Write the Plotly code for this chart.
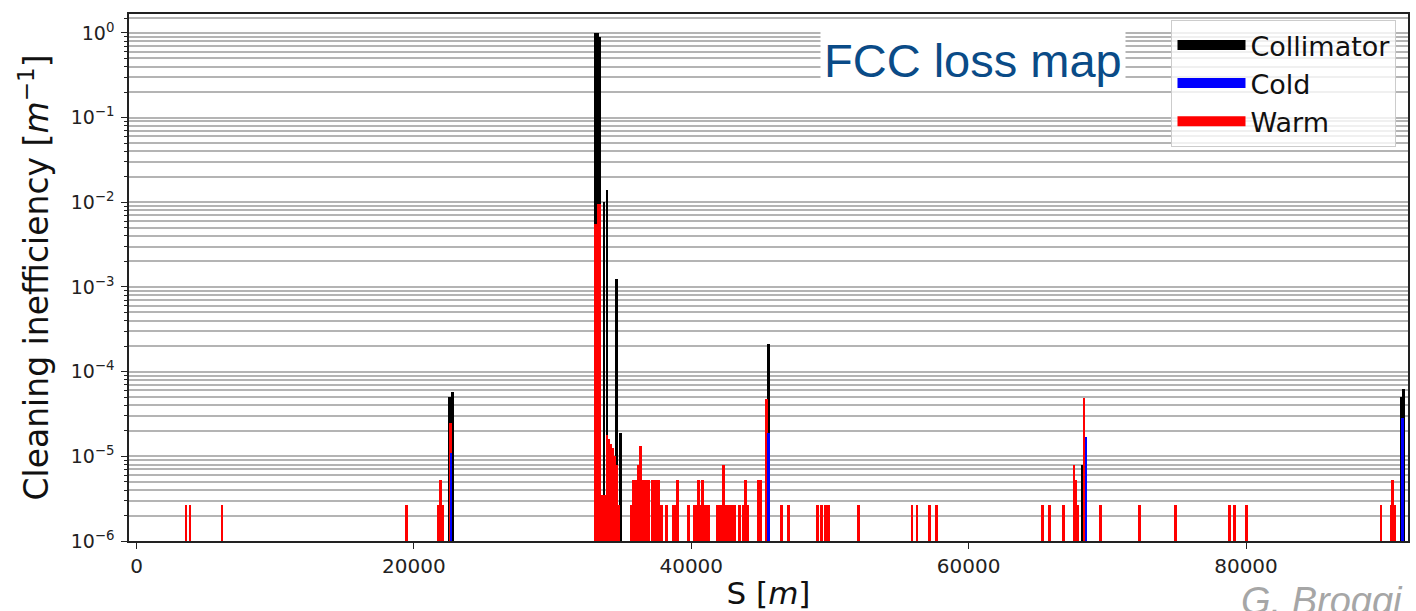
import plotly.graph_objects as go

# ---------------- data ----------------
series_names = ["Collimator", "Cold", "Warm"]
series_colors = ["#000000", "#0000ff", "#ff0000"]

collimator_s = [22578, 22758, 33094, 33274, 33418, 33706, 33922, 34606, 34894,
                45590, 68190, 91176, 91356]
collimator_eta = [5.0e-5, 5.8e-5, 1.0, 1.0, 0.9, 1.0e-2, 1.4e-2, 1.25e-3, 1.9e-5,
                  2.1e-4, 8.0e-6, 5.0e-5, 6.3e-5]

cold_s = [22672, 45560, 68456, 91272]
cold_eta = [1.1e-5, 1.9e-5, 1.67e-5, 2.8e-5]

warm_s = [3565, 3853, 6158, 19460, 21750, 21894, 22038, 22630,
          33094, 33274, 33400, 33598, 33742, 33922, 34066, 34210, 34354, 34498,
          34642, 34786,
          35686, 35830, 35974, 36154, 36334, 36478, 36622, 36766, 36910,
          37198, 37342, 37486, 37630, 37846, 38206, 38710, 38854, 38998,
          39790, 40259, 40403, 40511, 40655, 40799, 40943, 41087, 41231,
          41880, 42024, 42168, 42348, 42528, 42672, 42816, 42960, 43140,
          43464, 43752, 43896, 44040, 44832, 44976, 45410,
          46490, 46994, 49118, 49406, 49658, 49910, 52034,
          55923, 56283, 57183, 57687,
          65307, 65847, 66848, 67590, 67720, 67864, 68326, 69515,
          72295, 74902, 78827, 79187, 80030,
          89737, 90479, 90587, 90731]
warm_eta = [2.65e-6, 2.65e-6, 2.65e-6, 2.65e-6, 2.65e-6, 5.3e-6, 2.65e-6, 2.5e-5,
            5.5e-3, 9.5e-3, 9.5e-3, 3.5e-6, 3.5e-6, 1.8e-5, 1.6e-5, 1.4e-5, 1.25e-5, 1.0e-5,
            8.0e-6, 2.65e-6,
            2.65e-6, 5.3e-6, 5.3e-6, 8.0e-6, 1.33e-5, 5.3e-6, 5.3e-6, 5.3e-6, 5.3e-6,
            5.3e-6, 5.3e-6, 5.3e-6, 5.3e-6, 2.65e-6, 2.65e-6, 2.65e-6, 2.65e-6, 5.3e-6,
            2.65e-6, 2.65e-6, 2.65e-6, 5.3e-6, 2.65e-6, 5.3e-6, 2.65e-6, 2.65e-6, 2.65e-6,
            2.65e-6, 2.65e-6, 2.65e-6, 8.0e-6, 2.65e-6, 2.65e-6, 2.65e-6, 2.65e-6, 2.65e-6,
            2.65e-6, 2.65e-6, 5.3e-6, 2.65e-6, 5.3e-6, 5.3e-6, 4.8e-5,
            2.65e-6, 2.65e-6, 2.65e-6, 2.65e-6, 2.65e-6, 2.65e-6, 2.65e-6,
            2.65e-6, 2.65e-6, 2.65e-6, 2.65e-6,
            2.65e-6, 2.65e-6, 2.65e-6, 8.0e-6, 5.3e-6, 2.65e-6, 4.9e-5, 2.65e-6,
            2.65e-6, 2.65e-6, 2.65e-6, 2.65e-6, 2.65e-6,
            2.65e-6, 2.65e-6, 5.3e-6, 2.65e-6]

x_tickvals = [0, 20000, 40000, 60000, 80000]
x_ticktext = ["0", "20000", "40000", "60000", "80000"]
y_tickvals = [1e-6, 1e-5, 1e-4, 1e-3, 1e-2, 1e-1, 1e0]
y_ticktext = ["10<sup>\u22126</sup>", "10<sup>\u22125</sup>", "10<sup>\u22124</sup>",
              "10<sup>\u22123</sup>", "10<sup>\u22122</sup>", "10<sup>\u22121</sup>",
              "10<sup>0</sup>"]
y_minor_vals = [m * 10.0 ** e for e in range(-6, 0) for m in range(2, 10)] + [1.5]

title_text = "FCC loss map"
credit_text = "<i>G. Broggi</i>"
x_title = "S [<i>m</i>]"
y_title = "Cleaning inefficiency [<i>m</i><sup>\u22121</sup>]"

# ---------------- figure ----------------
BAR_W = 200
FONT = "DejaVu Sans, Liberation Sans, sans-serif"

fig = go.Figure()
# draw order: collimator (back), warm, cold (front)
fig.add_trace(go.Bar(x=collimator_s, y=collimator_eta, width=BAR_W,
                     marker=dict(color=series_colors[0], line=dict(width=0)),
                     name=series_names[0], showlegend=False))
fig.add_trace(go.Bar(x=warm_s, y=warm_eta, width=BAR_W,
                     marker=dict(color=series_colors[2], line=dict(width=0)),
                     name=series_names[2], showlegend=False))
fig.add_trace(go.Bar(x=cold_s, y=cold_eta, width=BAR_W,
                     marker=dict(color=series_colors[1], line=dict(width=0)),
                     name=series_names[1], showlegend=False))
# legend entries (wide swatches)
for nm, col in zip(series_names, series_colors):
    fig.add_trace(go.Scatter(x=[None], y=[None], mode="lines",
                             line=dict(color=col, width=16), name=nm))

fig.update_layout(
    width=1416, height=611,
    margin=dict(l=129, r=6, t=14, b=68),
    paper_bgcolor="white", plot_bgcolor="white",
    barmode="overlay", bargap=0,
    font=dict(family=FONT, color="#222222"),
    showlegend=True,
    legend=dict(x=0.991, xanchor="right", y=0.9887, yanchor="top",
                bgcolor="rgba(255,255,255,0.8)", bordercolor="#cccccc", borderwidth=1,
                font=dict(family=FONT, size=27, color="#111111"),
                itemwidth=68, tracegroupgap=0),
)

fig.update_xaxes(
    range=[-540, 91680], showgrid=False, zeroline=False,
    tickmode="array", tickvals=x_tickvals, ticktext=x_ticktext,
    ticks="outside", ticklen=6, tickwidth=1.3, tickcolor="#222222",
    tickfont=dict(family=FONT, size=20, color="#222222"),
    showline=True, linecolor="#222222", linewidth=1.5, mirror=True,
    title=dict(text=x_title, font=dict(family=FONT, size=31, color="#111111"), standoff=6),
)
fig.update_yaxes(
    type="log", range=[-6, 0.2235], zeroline=False,
    tickmode="array", tickvals=y_tickvals, ticktext=y_ticktext,
    ticks="outside", ticklen=6, tickwidth=1.3, tickcolor="#222222",
    tickfont=dict(family=FONT, size=19, color="#222222"),
    ticklabelstandoff=3,
    showgrid=True, gridcolor="#b4b4b4", gridwidth=1.5,
    minor=dict(tickmode="array", tickvals=y_minor_vals, ticks="outside", ticklen=3.5,
               tickwidth=1, tickcolor="#222222", showgrid=True,
               gridcolor="#b4b4b4", gridwidth=1.5),
    showline=True, linecolor="#222222", linewidth=1.5, mirror=True,
    title=dict(text=y_title, font=dict(family=FONT, size=33, color="#111111"), standoff=12),
)

fig.add_annotation(xref="paper", yref="paper", x=0.66, y=0.911,
                   xanchor="center", yanchor="middle", showarrow=False,
                   text=title_text, bgcolor="white", borderpad=3,
                   font=dict(family="Liberation Sans, Arial, sans-serif", size=47, color="#0a4b87"))
fig.add_annotation(xref="paper", yref="paper", x=0.8676, y=-0.0699,
                   xanchor="left", yanchor="top", showarrow=False,
                   text=credit_text,
                   font=dict(family="Liberation Sans, Arial, sans-serif", size=38, color="#a6a6a6"))

fig.write_html("out.html")
